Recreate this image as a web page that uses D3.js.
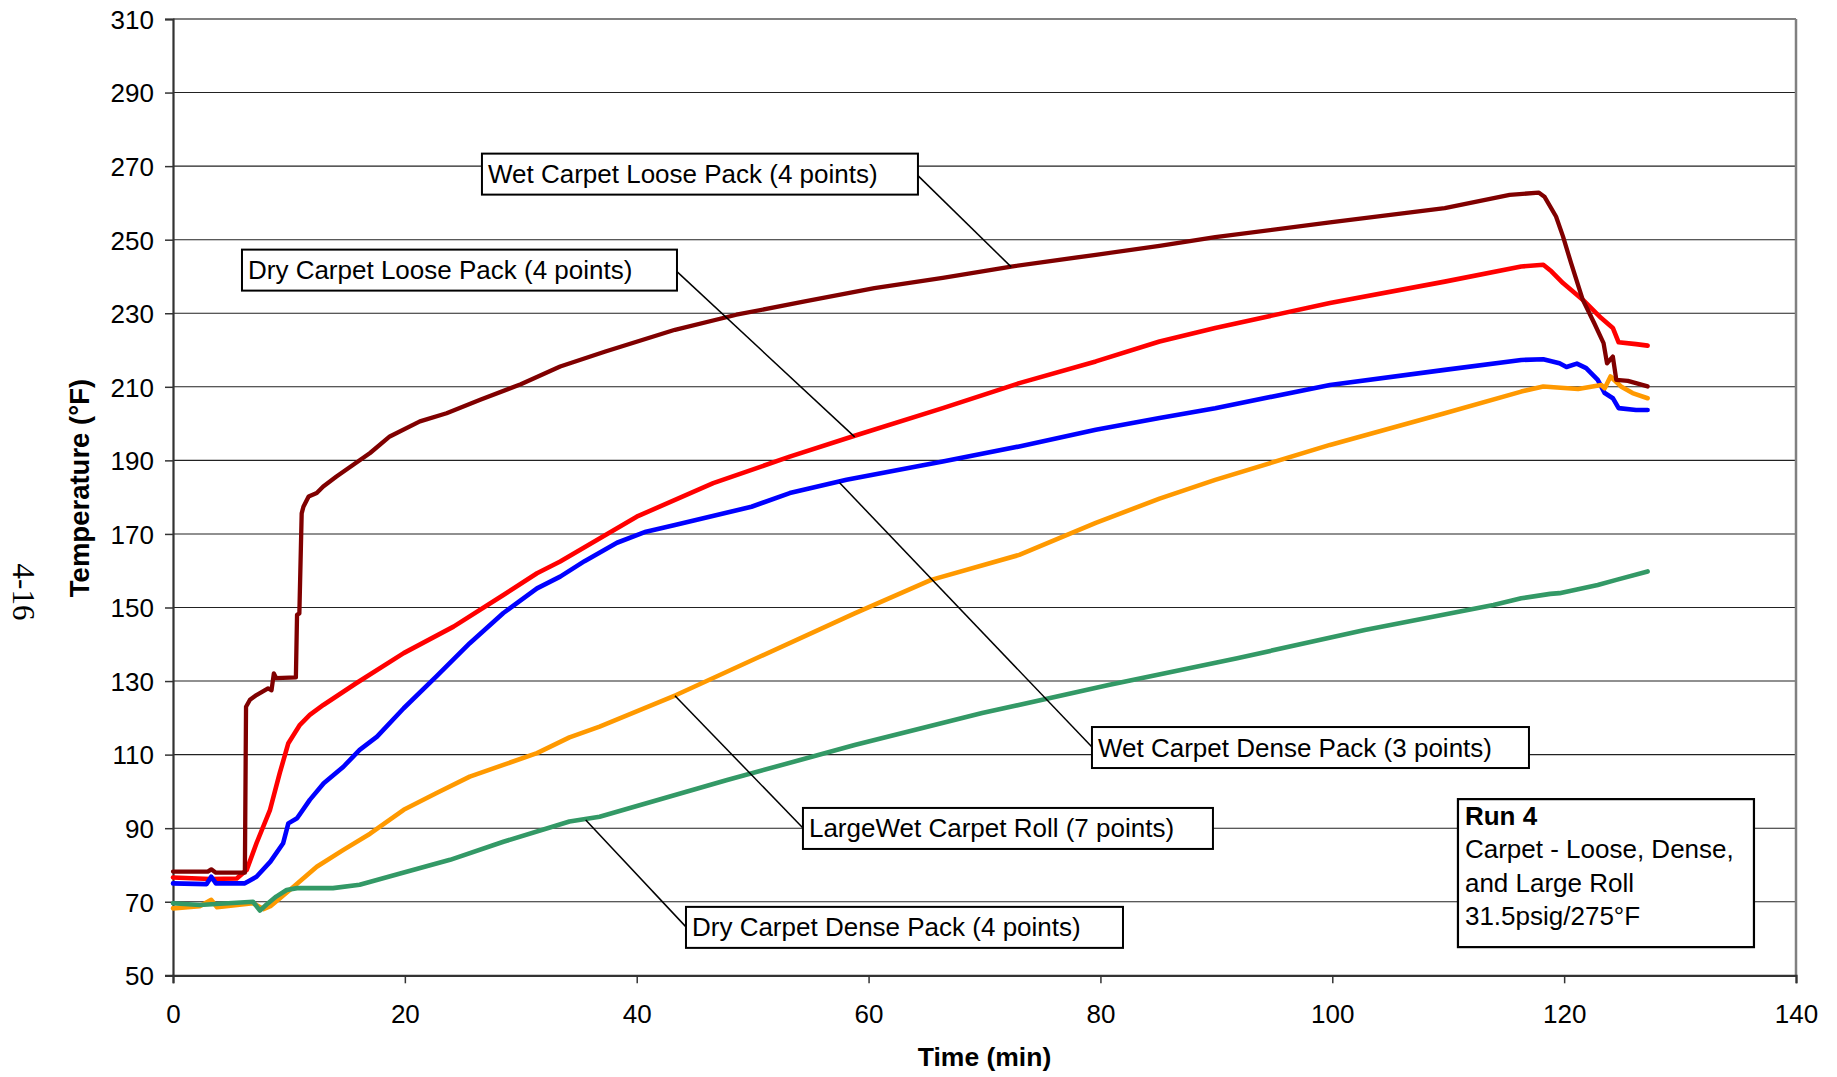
<!DOCTYPE html>
<html>
<head>
<meta charset="utf-8">
<script src="https://cdn.jsdelivr.net/npm/d3@7/dist/d3.min.js"></script>
<style>
  html, body { margin: 0; padding: 0; background: #fff; }
  svg text { font-family: "Liberation Sans", Arial, sans-serif; fill: #000; }
</style>
</head>
<body>
<svg id="chart" width="1837" height="1077"></svg>
<script>
// ---------------- DATA ----------------
const xTicks = [0, 20, 40, 60, 80, 100, 120, 140];
const yTicks = [50, 70, 90, 110, 130, 150, 170, 190, 210, 230, 250, 270, 290, 310];

// Wet Carpet Loose Pack (4 points) - dark red
const wetLooseT = [0, 3.0, 3.3, 3.7, 6.2, 6.3, 6.64, 7.2, 8.2, 8.5, 8.7, 8.9, 10.6, 10.7, 10.9, 11.1, 11.25, 11.7, 12.4, 12.96, 14.1, 15.55, 17.0, 18.7, 21.3, 23.6, 26.5, 30, 33.4, 37.3, 43.3, 48.6, 54.5, 60.5, 66.4, 72.3, 79.6, 85.1, 89.9, 99.8, 109.7, 115.3, 117.8, 118.3, 119.3, 119.9, 120.6, 121.6, 122.6, 123.4, 123.7, 124.2, 124.5, 125.5, 127.2];
const wetLooseV = [78.2, 78.2, 78.8, 77.9, 77.9, 123.0, 124.9, 126.2, 128.0, 127.5, 132.1, 130.8, 131.0, 148.0, 148.4, 175.6, 177.4, 180.2, 181.1, 182.9, 185.6, 188.8, 192.0, 196.5, 200.6, 202.8, 206.5, 210.7, 215.5, 219.6, 225.5, 229.6, 233.2, 236.8, 239.6, 242.7, 245.9, 248.3, 250.7, 254.7, 258.6, 262.2, 262.8, 261.7, 256.3, 250.9, 243.6, 233.7, 227.3, 221.9, 216.4, 218.2, 211.9, 211.6, 210.1];

// Dry Carpet Loose Pack (4 points) - red
const dryLooseT = [0, 3.2, 5.5, 6.35, 7.2, 8.37, 9.2, 9.95, 10.95, 11.8, 12.97, 15.8, 19.9, 24.2, 28.5, 31.4, 33.4, 40.0, 46.6, 53.2, 58.8, 66.4, 73.0, 79.6, 85.1, 89.9, 99.8, 109.7, 116.3, 118.2, 118.9, 119.9, 121.6, 123.2, 124.2, 124.7, 126.2, 127.2];
const dryLooseV = [76.6, 76.2, 76.3, 78.6, 85.9, 95.0, 104.9, 113.1, 118.1, 120.8, 123.5, 129.4, 137.6, 144.8, 153.4, 159.3, 162.5, 174.7, 183.8, 191.0, 196.7, 204.2, 211.0, 216.9, 222.3, 226.0, 232.8, 238.6, 242.7, 243.2, 241.4, 238.2, 233.7, 228.7, 226.0, 222.1, 221.6, 221.2];

// Wet Carpet Dense Pack (3 points) - blue
const wetDenseT = [0, 2.9, 3.3, 3.7, 6.2, 7.2, 8.4, 9.5, 9.95, 10.7, 11.8, 13.0, 14.7, 16.1, 17.6, 19.9, 22.7, 25.6, 28.5, 31.4, 33.4, 35.5, 38.3, 40.8, 43.3, 49.9, 53.2, 58.1, 66.4, 73.0, 79.6, 85.1, 89.9, 99.8, 109.7, 116.3, 118.2, 119.6, 120.2, 121.1, 121.9, 122.9, 123.5, 124.2, 124.7, 126.2, 127.2];
const wetDenseV = [75.0, 74.8, 76.8, 75.0, 75.0, 76.8, 80.9, 85.9, 91.3, 92.7, 97.7, 102.2, 106.7, 111.3, 114.9, 122.6, 131.2, 140.3, 148.5, 155.2, 158.4, 162.6, 167.6, 170.6, 172.4, 177.4, 181.1, 184.7, 189.7, 193.8, 198.3, 201.5, 204.2, 210.5, 214.6, 217.3, 217.5, 216.4, 215.4, 216.3, 215.1, 211.9, 208.3, 206.9, 204.2, 203.7, 203.7];

// LargeWet Carpet Roll (7 points) - orange
const rollT = [0, 2.3, 3.3, 3.8, 6.9, 7.8, 8.4, 9.2, 10.4, 12.4, 14.7, 17.0, 19.9, 22.7, 25.6, 28.5, 31.4, 34.2, 36.8, 43.4, 50.6, 58.8, 65.4, 73.0, 79.6, 85.1, 89.9, 99.8, 109.7, 116.3, 118.2, 121.2, 123.2, 123.5, 124.0, 124.9, 125.9, 127.2];
const rollV = [68.2, 68.8, 70.5, 68.5, 69.6, 68.0, 68.8, 70.9, 74.1, 79.5, 84.1, 88.5, 95.0, 99.5, 104.0, 107.2, 110.4, 114.7, 117.6, 126.2, 136.6, 148.4, 157.5, 164.3, 173.0, 179.6, 184.7, 194.2, 202.8, 208.7, 210.1, 209.4, 210.5, 209.6, 212.8, 210.1, 208.3, 206.9];

// Dry Carpet Dense Pack (4 points) - green
const dryDenseT = [0, 2.3, 6.9, 7.5, 8.1, 8.9, 9.8, 10.7, 13.8, 16.1, 19.6, 23.9, 28.5, 34.2, 36.8, 47.8, 58.8, 69.8, 80.8, 91.8, 102.8, 113.9, 116.3, 118.8, 119.6, 122.9, 124.5, 127.2];
const dryDenseV = [69.6, 69.1, 70.0, 67.6, 69.3, 71.4, 73.2, 73.7, 73.7, 74.6, 77.7, 81.4, 86.3, 91.8, 93.1, 103.1, 112.6, 121.3, 129.0, 136.2, 143.9, 150.7, 152.5, 153.7, 153.9, 156.1, 157.5, 159.8];

// Label texts and the curve point each leader line points to (time, temp)
const labelTexts = ["Wet Carpet Loose Pack (4 points)", "Dry Carpet Loose Pack (4 points)", "Wet Carpet Dense Pack (3 points)", "LargeWet Carpet Roll (7 points)", "Dry Carpet Dense Pack (4 points)"];
const labelTargetT = [72.3, 58.8, 57.5, 43.3, 35.6];
const labelTargetV = [242.6, 196.4, 183.9, 126.0, 92.2];
// box corner (time, temp) of each label
const labelBoxT = [26.65, 5.95, 79.27, 54.34, 44.25];
const labelBoxV = [273.4, 247.3, 117.5, 95.5, 68.6];
const noteLines = ["Run 4", "Carpet - Loose, Dense,", "and Large Roll", "31.5psig/275°F"];

// ---------------- LAYOUT ----------------
const W = 1837, H = 1077;
const m = { left: 173, top: 19, right: 1837 - 1796, bottom: 1077 - 975.3 };
const svg = d3.select("#chart");
const x = d3.scaleLinear().domain([0, 140]).range([m.left, W - m.right]);
const y = d3.scaleLinear().domain([50, 310]).range([H - m.bottom, m.top]);

// gridlines
svg.append("g").selectAll("line").data(yTicks.filter(v => v > 50 && v < 310)).join("line")
  .attr("x1", x(0)).attr("x2", x(140))
  .attr("y1", d => y(d)).attr("y2", d => y(d))
  .attr("stroke", "#222").attr("stroke-width", 1.1);

// plot frame (top and right grey)
svg.append("line").attr("x1", x(0)).attr("x2", x(140)).attr("y1", y(310)).attr("y2", y(310))
  .attr("stroke", "#808080").attr("stroke-width", 2);
svg.append("line").attr("x1", x(140)).attr("x2", x(140)).attr("y1", y(310)).attr("y2", y(50))
  .attr("stroke", "#808080").attr("stroke-width", 2.5);

// axes
const yAxis = d3.axisLeft(y).tickValues(yTicks).tickSize(8).tickPadding(11).tickFormat(d3.format("d"));
const gy = svg.append("g").attr("transform", `translate(${x(0)},0)`).call(yAxis);
const xAxis = d3.axisBottom(x).tickValues(xTicks).tickSize(8).tickPadding(21).tickFormat(d3.format("d"));
const gx = svg.append("g").attr("transform", `translate(0,${y(50)})`).call(xAxis);
[gx, gy].forEach(g => {
  g.select(".domain").attr("stroke", "#333").attr("stroke-width", 2.2);
  g.selectAll(".tick line").attr("stroke", "#333").attr("stroke-width", 1.5);
  g.selectAll(".tick text").attr("font-size", 26).attr("font-family", "Liberation Sans, Arial, sans-serif").attr("fill", "#000");
});
gy.selectAll(".tick text").attr("dy", "0.36em");
gx.selectAll(".tick text").attr("dy", "0.71em");

// axis titles
svg.append("text").attr("x", (x(0) + x(140)) / 2).attr("y", 1066)
  .attr("text-anchor", "middle").attr("font-size", 26.5).attr("font-weight", "bold").text("Time (min)");
svg.append("text").attr("transform", `translate(89,488) rotate(-90)`)
  .attr("text-anchor", "middle").attr("font-size", 27.5).attr("font-weight", "bold").text("Temperature (°F)");

// page number
svg.append("text").attr("transform", `translate(13,592) rotate(90)`)
  .attr("text-anchor", "middle").attr("font-size", 31)
  .style("font-family", "Liberation Serif, Times New Roman, serif").text("4-16");

// series lines
const series = [
  { t: dryLooseT, v: dryLooseV, color: "#FF0000", w: 4.6 },
  { t: wetDenseT, v: wetDenseV, color: "#0000FF", w: 4.6 },
  { t: rollT, v: rollV, color: "#FF9900", w: 4.6 },
  { t: dryDenseT, v: dryDenseV, color: "#339966", w: 4.6 },
  { t: wetLooseT, v: wetLooseV, color: "#800000", w: 4.3 }
];
const line = d3.line().x(d => x(d[0])).y(d => y(d[1]));
svg.append("g").selectAll("path").data(series).join("path")
  .attr("d", s => line(s.t.map((t, i) => [t, s.v[i]])))
  .attr("fill", "none").attr("stroke", s => s.color).attr("stroke-width", s => s.w)
  .attr("stroke-linejoin", "round").attr("stroke-linecap", "round");

// annotation labels with leader lines
const boxW = [436, 435, 437, 410, 437], boxH = 41;
const anchorRight = [true, true, false, false, false];
const ann = svg.append("g");
labelTexts.forEach((txt, i) => {
  const bx = x(labelBoxT[i]), by = y(labelBoxV[i]);
  const ax = anchorRight[i] ? bx + boxW[i] : bx;
  const ay = by + (anchorRight[i] ? 22 : 20);
  ann.append("line").attr("x1", ax).attr("y1", ay)
    .attr("x2", x(labelTargetT[i])).attr("y2", y(labelTargetV[i]))
    .attr("stroke", "#000").attr("stroke-width", 1.5);
  ann.append("rect").attr("x", bx).attr("y", by).attr("width", boxW[i]).attr("height", boxH)
    .attr("fill", "#fff").attr("stroke", "#000").attr("stroke-width", 2);
  ann.append("text").attr("x", bx + 6).attr("y", by + 29.5).attr("font-size", 26).text(txt);
});

// Run note box
const nx = x(110.84), ny = y(97.9);
svg.append("rect").attr("x", nx).attr("y", ny).attr("width", 296).attr("height", 148)
  .attr("fill", "#fff").attr("stroke", "#000").attr("stroke-width", 2.2);
noteLines.forEach((s, i) => {
  svg.append("text").attr("x", nx + 7).attr("y", ny + 26 + i * 33.3)
    .attr("font-size", 26).attr("font-weight", i === 0 ? "bold" : "normal").text(s);
});
</script>
</body>
</html>
